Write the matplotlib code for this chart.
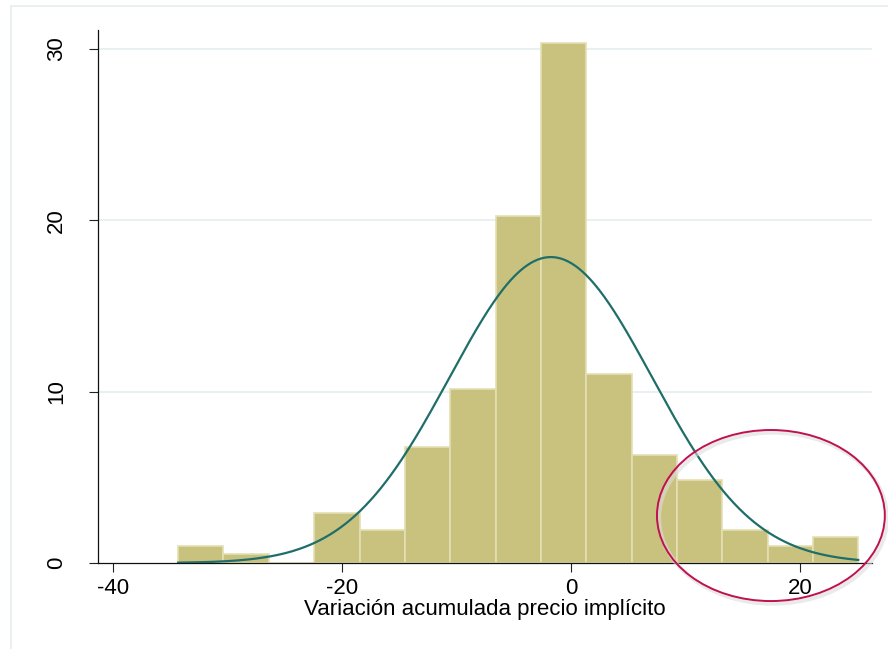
import numpy as np
import matplotlib
matplotlib.use("Agg")
import matplotlib.pyplot as plt
from matplotlib.patches import Ellipse
from matplotlib.lines import Line2D

plt.rcParams['font.family'] = ['Liberation Sans', 'DejaVu Sans']

# Histogram data (percent per bin)
bin_start = -34.3
bin_width = 3.96
percent = [1.0, 0.5, 0.0, 2.9, 1.95, 6.75, 10.15, 20.25, 30.35, 11.05, 6.3, 4.85, 1.95, 1.0, 1.5]
# Fitted normal curve parameters
mean_val = -1.75
sd_val = 8.85

x_ticks = [-40, -20, 0, 20]
x_tick_labels = ["-40", "-20", "0", "20"]
y_ticks = [0, 10, 20, 30]
y_tick_labels = ["0", "10", "20", "30"]
x_label = "Variación acumulada precio implícito"

W, H = 888, 649
fig = plt.figure(figsize=(W / 100, H / 100), dpi=100)
ax = fig.add_axes([98 / W, 1 - 563 / H, (872 - 98) / W, (563 - 30) / H])

n = len(percent)
lefts = bin_start + bin_width * np.arange(n)
ax.bar(lefts, percent, width=bin_width, align='edge', color='#C9C27F',
       edgecolor='#E3DFB3', linewidth=1.2, zorder=2)

xs = np.linspace(bin_start, bin_start + bin_width * n, 400)
dens = np.exp(-0.5 * ((xs - mean_val) / sd_val) ** 2) / (sd_val * np.sqrt(2 * np.pi))
ax.plot(xs, dens * bin_width * 100, color='#1F6E69', lw=1.6, zorder=3)

fs = 16
ax.set_xlim(-41.3, 26.3)
ax.set_ylim(0, 31.1)
ax.set_xticks(x_ticks)
ax.set_xticklabels(x_tick_labels)
ax.set_yticks(y_ticks)
ax.set_yticklabels(y_tick_labels, rotation=90, va='center')
ax.tick_params(axis='y', length=6.5, width=0.8, pad=16, labelsize=fs, color='#222222')
ax.tick_params(axis='x', length=6.5, width=0.8, pad=4.3, labelsize=fs, color='#222222')
for s in ['top', 'right']:
    ax.spines[s].set_visible(False)
for s in ['left', 'bottom']:
    ax.spines[s].set_linewidth(0.9)
    ax.spines[s].set_color('#111111')
for v in y_ticks[1:]:
    ax.axhline(v, color='#E8F0F2', lw=1.4, zorder=0)
ax.set_xlabel(x_label, fontsize=fs, labelpad=0)

# Annotation ellipse with subtle shadow
sh = Ellipse((17.65, 2.62), 19.9, 9.98, fill=False, edgecolor='#dcdcdc', lw=3.0,
             alpha=0.6, clip_on=False, zorder=4)
ax.add_patch(sh)
el = Ellipse((17.47, 2.77), 19.9, 9.98, fill=False, edgecolor='#C0104F', lw=1.4,
             clip_on=False, zorder=5)
ax.add_patch(el)

# Light outer frame lines
fig.add_artist(Line2D([11 / W, 1.0], [1 - 6 / H, 1 - 6 / H], color='#E6EDF0', lw=1.2))
fig.add_artist(Line2D([11 / W, 11 / W], [0, 1 - 6 / H], color='#E6EDF0', lw=1.2))

fig.savefig('out.png', dpi=100)
